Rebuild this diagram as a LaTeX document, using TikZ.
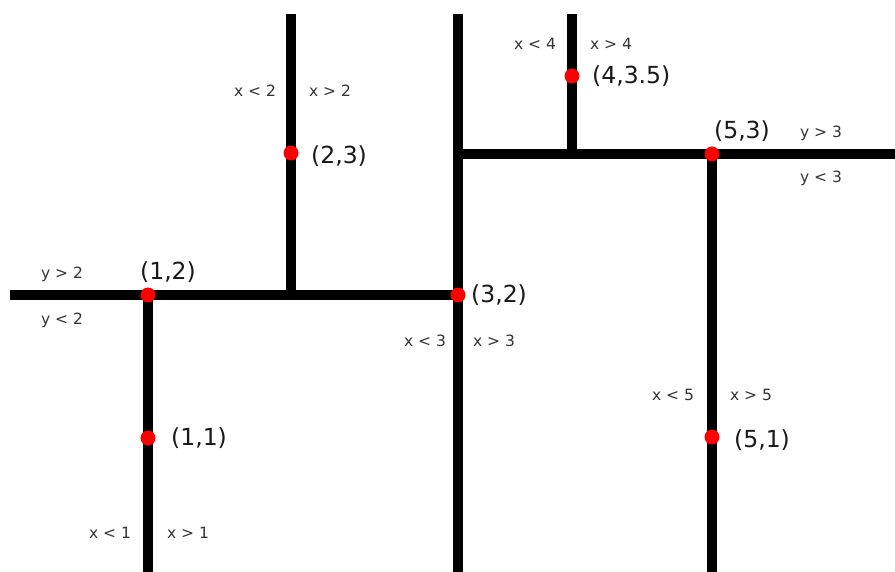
\documentclass[tikz,border=0pt]{standalone}
\usepackage{fontspec}
\setmainfont{DejaVu Sans}
\usepackage{tikz}
\usetikzlibrary{positioning}
\definecolor{splitred}{HTML}{FF0000}
\definecolor{labelgray}{HTML}{333333}

\begin{document}
\begin{tikzpicture}[
  x=1pt, y=-1pt,
  cut/.style={line width=10pt, line cap=butt, draw=black},
  point/.style={circle, fill=splitred, inner sep=0pt, minimum size=15pt},
  coord/.style={font=\fontsize{23.5}{25}\selectfont, text=black!90, inner sep=0pt},
  side/.style={font=\fontsize{15.5}{17}\selectfont, text=labelgray, inner sep=0pt}
]
\useasboundingbox (0,0) rectangle (895,572);
% line ends
\coordinate (left) at (10,295);
\coordinate (top2) at (291,14);
\coordinate (foot2) at (291,295);
\coordinate (top3) at (458,14);
\coordinate (bot3) at (458,572);
\coordinate (bot1) at (148,572);
\coordinate (join3) at (458,154);
\coordinate (right) at (895,154);
\coordinate (top4) at (572,14);
\coordinate (foot4) at (572,154);
\coordinate (bot5) at (712,572);
% points
\coordinate (p12) at (148,295);
\coordinate (p11) at (148,438);
\coordinate (p23) at (291,153);
\coordinate (p32) at (458,295);
\coordinate (p435) at (572,76);
\coordinate (p53) at (712,154);
\coordinate (p51) at (712,437);
% splits
\draw[cut] (left) -- (p32);
\draw[cut] (p12) -- (bot1);
\draw[cut] (top2) -- (foot2);
\draw[cut] (top3) -- (bot3);
\draw[cut] (join3) -- (right);
\draw[cut] (top4) -- (foot4);
\draw[cut] (p53) -- (bot5);
\foreach \p in {p12,p11,p23,p32,p435,p53,p51}
  \node[point] at (\p) {};
\node[coord] (l12) at (168,272) {(1,2)};
\node[coord, anchor=west] (l11) at (171,438) {(1,1)};
\node[coord, anchor=west] (l23) at (311,156) {(2,3)};
\node[coord, anchor=west] (l32) at (471,295) {(3,2)};
\node[coord, anchor=west] (l435) at (592,76) {(4,3.5)};
\node[coord] (l53) at (742,131) {(5,3)};
\node[coord, anchor=west] (l51) at (734,440) {(5,1)};
% sides
\node[side] (s2a) at (255,91) {x < 2};
\node[side] (s2b) at (330,91) {x > 2};
\node[side] (s12a) at (62,274) {y > 2};
\node[side] (s12b) at (62,320) {y < 2};
\node[side] (s3a) at (425,341) {x < 3};
\node[side] (s3b) at (494,341) {x > 3};
\node[side] (s4a) at (535,44) {x < 4};
\node[side] (s4b) at (611,44) {x > 4};
\node[side] (s53a) at (821,133) {y > 3};
\node[side] (s53b) at (821,178) {y < 3};
\node[side] (s5a) at (673,395) {x < 5};
\node[side] (s5b) at (751,395) {x > 5};
\node[side] (s1a) at (110,533) {x < 1};
\node[side] (s1b) at (188,533) {x > 1};
\end{tikzpicture}
\end{document}
